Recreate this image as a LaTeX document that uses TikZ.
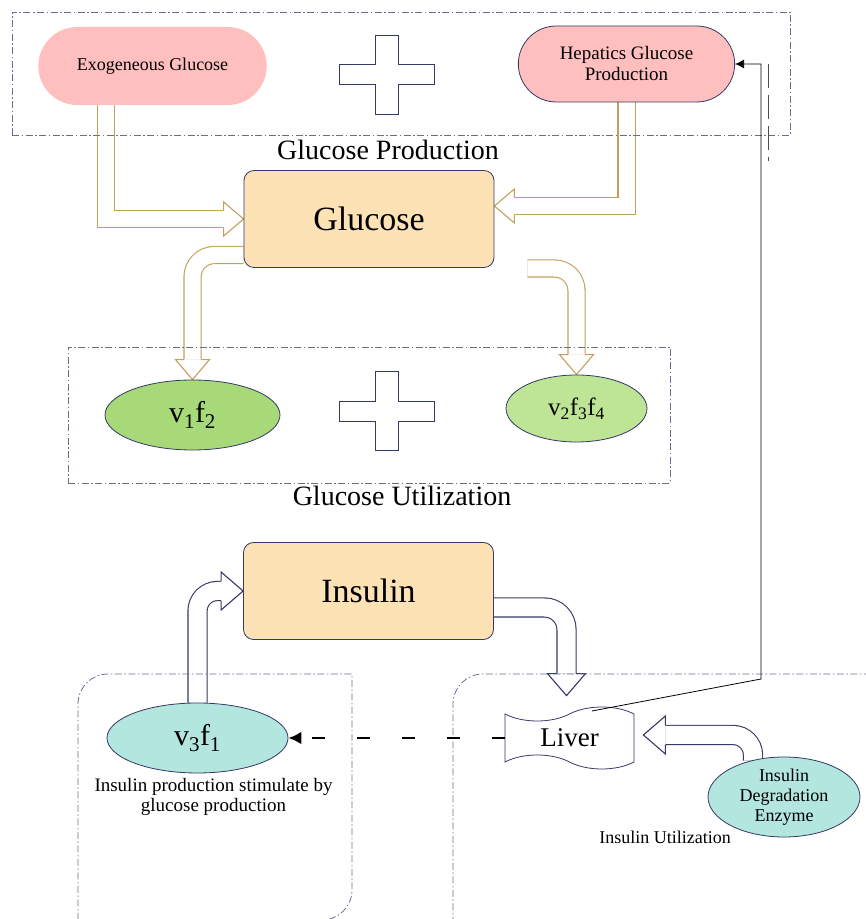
\documentclass[tikz,border=0pt]{standalone}
\usepackage{fontspec}
\setmainfont{Liberation Serif}
\usepackage{tikz}
\usetikzlibrary{arrows.meta,positioning,shapes.geometric,shapes.misc,shapes.symbols,calc,backgrounds}
\definecolor{goldline}{RGB}{196,160,92}
\definecolor{navyline}{RGB}{52,58,102}
\definecolor{dashgray}{RGB}{105,110,140}
\definecolor{pinkfill}{RGB}{255,191,191}
\definecolor{peachfill}{RGB}{253,226,181}
\definecolor{greenfill}{RGB}{168,217,120}
\definecolor{lightgreen}{RGB}{190,228,150}
\definecolor{tealfill}{RGB}{178,230,222}

\begin{document}
\begin{tikzpicture}[
  x=1pt, y=1pt,
  stadium/.style={rounded rectangle, fill=pinkfill, minimum width=235pt, minimum height=78pt, align=center},
  roundbox/.style={rectangle, rounded corners=10pt, draw=navyline, line width=0.8pt, fill=peachfill,
                   minimum width=250pt, minimum height=97pt, font=\fontsize{34}{40}\selectfont},
  oval/.style={ellipse, draw=navyline, line width=0.8pt, inner sep=0pt, align=center},
  regionbox/.style={draw=dashgray, line width=0.8pt, dash pattern=on 7pt off 2.5pt on 1.5pt off 2.5pt},
  title/.style={font=\fontsize{28}{32}\selectfont},
  note/.style={font=\fontsize{18}{20}\selectfont, align=center, inner sep=0pt},
  glink/.style={draw=goldline, line width=1.1pt, double=white, double distance=16pt},
  nlink/.style={draw=navyline, line width=1.1pt, double=white, double distance=18pt},
  dashlink/.style={line width=2.6pt, dash pattern=on 13pt off 32pt, -{Latex[length=13pt,width=13pt]}},
  feedback/.style={line width=0.8pt, -{Latex[length=9pt,width=9pt]}},
  ghead/.pic={\filldraw[goldline, fill=white, line width=1.1pt] (-20,8.55) -- (-20,17) -- (0,0) -- (-20,-17) -- (-20,-8.55);},
  nhead/.pic={\filldraw[navyline, fill=white, line width=1.1pt] (-22,9.55) -- (-22,19) -- (0,0) -- (-22,-19) -- (-22,-9.55);},
  plussign/.pic={\draw[navyline, line width=0.9pt, fill=white] (-11.5,39.5) -- (11.5,39.5) -- (11.5,10) -- (47.5,10) -- (47.5,-10)
                  -- (11.5,-10) -- (11.5,-39.5) -- (-11.5,-39.5) -- (-11.5,-10) -- (-47.5,-10) -- (-47.5,10) -- (-11.5,10) -- cycle;}
]
\useasboundingbox (0,0) rectangle (866,919);

% glucose part
\node[regionbox, minimum width=778pt, minimum height=123pt] (prodbox) at (401,845.5) {};
\node[stadium, font=\fontsize{18}{20}\selectfont] (exo) at (152.5,853) {Exogeneous Glucose};
\node[stadium, draw=navyline, line width=0.8pt, minimum width=223pt, minimum height=76pt,
      font=\fontsize{19}{21}\selectfont] (hep) at (626.5,855) {Hepatics Glucose\\Production};
\pic at (386.5,844.5) {plussign};
\node[title] (prodlabel) at (388,769) {Glucose Production};

\node[roundbox] (glu) at (369,700) {Glucose};

\node[regionbox, minimum width=602pt, minimum height=136pt] (utilbox) at (369,504) {};
\node[oval, fill=greenfill, minimum width=175pt, minimum height=70pt, font=\fontsize{30}{34}\selectfont] (v1) at (192.5,504) {v\textsubscript{1}f\textsubscript{2}};
\pic at (386.5,508) {plussign};
\node[oval, fill=lightgreen, minimum width=141pt, minimum height=67pt, font=\fontsize{25}{28}\selectfont] (v2) at (576.5,510.5) {v\textsubscript{2}f\textsubscript{3}f\textsubscript{4}};
\node[title] (utillabel) at (402,423) {Glucose Utilization};

% insulin part
\begin{scope}
\clip (0,0) rectangle (866,919);
\draw[regionbox] (78,-1) -- (78,215) arc[start angle=180, end angle=90, radius=30] -- (352,245) -- (352,29)
  arc[start angle=0, end angle=-90, radius=30] -- cycle;
\draw[regionbox] (453,-5) -- (453,215) arc[start angle=180, end angle=90, radius=30] -- (880,245);
\end{scope}

\node[roundbox] (ins) at (368.5,328) {Insulin};
\node[oval, fill=tealfill, minimum width=181pt, minimum height=70pt, font=\fontsize{30}{34}\selectfont] (v3) at (197.5,181) {v\textsubscript{3}f\textsubscript{1}};
\node[note, font=\fontsize{19}{20}\selectfont, below=5pt of v3, xshift=16pt] (v3note) {Insulin production stimulate by\\glucose production};
\node[tape, draw=navyline, line width=0.8pt, fill=white, tape bend top=in and out, tape bend bottom=out and in,
      tape bend height=14pt, minimum width=129pt, minimum height=62pt, font=\fontsize{27}{30}\selectfont] (liver) at (569.5,181) {Liver};
\node[oval, fill=tealfill, minimum width=152pt, minimum height=80pt, font=\fontsize{18}{20}\selectfont] (enz) at (784,122) {Insulin\\Degradation\\Enzyme};
\node[note] (insutil) at (665,82) {Insulin Utilization};

% block arrows
\begin{scope}[on background layer]
\draw[glink] ([xshift=-46.5pt]exo.south) |- ([xshift=-20pt]glu.west);
\pic at (glu.west) {ghead};
\draw[glink] (hep.south) |- ([xshift=20pt,yshift=13pt]glu.east);
\pic[rotate=180] at ([yshift=13pt]glu.east) {ghead};
\draw[glink, rounded corners=22pt] ([yshift=-36pt]glu.west) -| ([yshift=20pt]v1.north);
\pic[rotate=-90] at (v1.north) {ghead};
\draw[glink, rounded corners=22pt] ([xshift=33pt,yshift=-49.5pt]glu.east) -| ([yshift=20pt]v2.north);
\pic[rotate=-90] at (v2.north) {ghead};

\draw[nlink, rounded corners=20pt] ([yshift=-3pt]v3.north) |- ([xshift=-22pt]ins.west);
\pic at (ins.west) {nhead};
\draw[nlink, rounded corners=22pt] ([yshift=-16.5pt]ins.east) -| ([xshift=-3pt,yshift=40pt]liver.north);
\pic[rotate=-90] at ([xshift=-3pt,yshift=18pt]liver.north) {nhead};
\draw[nlink, rounded corners=20pt] ([xshift=-31pt,yshift=-4pt]enz.north) |- ([xshift=31pt,yshift=3pt]liver.east);
\pic[rotate=180] at ([xshift=9pt,yshift=3pt]liver.east) {nhead};
\end{scope}

% feedback to hepatic production
\draw[dashlink] (liver.west) -- (v3.east);
\coordinate (fbstart) at (592,208);
\coordinate (fbturn) at (761,240);
\coordinate (fbtop) at (761,855);
\draw[feedback] (fbstart) -- (fbturn) -- (fbtop) -- (hep.east);
\draw[black!70, line width=0.8pt, dash pattern=on 24pt off 7pt] (768,855) -- (768,758);
\end{tikzpicture}
\end{document}
